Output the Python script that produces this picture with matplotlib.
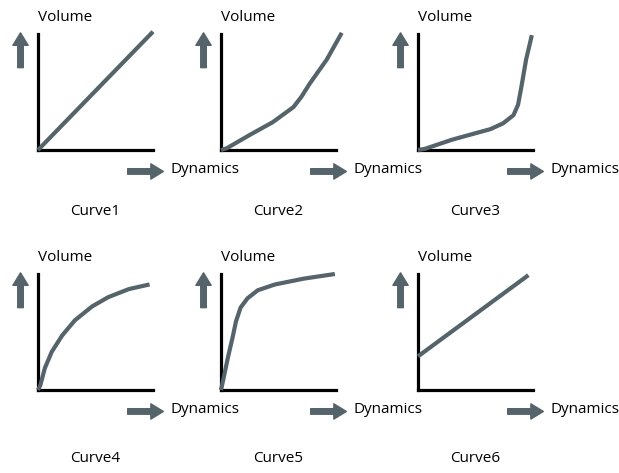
import matplotlib.pyplot as plt

# Kurvendaten (x = Dynamics, y = Volume, jeweils 0..1)
curve_names = ["Curve1", "Curve2", "Curve3", "Curve4", "Curve5", "Curve6"]
curve1_x = [0.0, 1.0]
curve1_y = [0.0, 1.02]
curve2_x = [0.0, 0.05, 0.25, 0.45, 0.63, 0.70, 0.77, 0.92, 1.05]
curve2_y = [0.0, 0.015, 0.13, 0.24, 0.37, 0.46, 0.57, 0.78, 1.01]
curve3_x = [0.0, 0.06, 0.30, 0.63, 0.74, 0.83, 0.87, 0.90, 0.94, 0.99]
curve3_y = [0.0, 0.01, 0.09, 0.18, 0.23, 0.30, 0.39, 0.55, 0.78, 0.99]
curve4_x = [0.0, 0.02, 0.06, 0.12, 0.21, 0.32, 0.47, 0.61, 0.79, 0.97]
curve4_y = [0.0, 0.04, 0.19, 0.33, 0.47, 0.60, 0.72, 0.80, 0.87, 0.91]
curve5_x = [0.0, 0.02, 0.06, 0.10, 0.13, 0.17, 0.23, 0.32, 0.47, 0.72, 0.99]
curve5_y = [0.0, 0.09, 0.28, 0.45, 0.59, 0.71, 0.79, 0.86, 0.91, 0.96, 1.0]
curve6_x = [0.0, 0.96]
curve6_y = [0.29, 0.99]
curves_x = [curve1_x, curve2_x, curve3_x, curve4_x, curve5_x, curve6_x]
curves_y = [curve1_y, curve2_y, curve3_y, curve4_y, curve5_y, curve6_y]

W, H = 619, 473
col_left = [38, 221, 418]
row_top = [34, 274]
panel_w, panel_h = 115, 116
label_off = [-0.53, -0.59]

grey = "#55636a"
font = "Open Sans"

fig = plt.figure(figsize=(W / 100, H / 100), dpi=100)

for i, name in enumerate(curve_names):
    r, c = divmod(i, 3)
    left = col_left[c] / W
    bottom = 1 - (row_top[r] + panel_h) / H
    ax = fig.add_axes([left, bottom, panel_w / W, panel_h / H])
    ax.set_xlim(0, 1)
    ax.set_ylim(0, 1)
    ax.set_xticks([])
    ax.set_yticks([])
    for s in ["top", "right"]:
        ax.spines[s].set_visible(False)
    for s in ["left", "bottom"]:
        ax.spines[s].set_linewidth(2.3)
        ax.spines[s].set_color("black")
        ax.spines[s].set_capstyle("projecting")
    ax.patch.set_alpha(0)

    ax.plot(curves_x[i], curves_y[i], color=grey, lw=3.0, clip_on=False,
            solid_joinstyle="round", solid_capstyle="butt", zorder=3)

    # Pfeile
    arrow = dict(arrowstyle="simple,head_width=0.55,head_length=0.45,tail_width=0.2",
                 color=grey, shrinkA=0, shrinkB=0, mutation_scale=20)
    ax.annotate("", xy=(-0.152, 1.01), xytext=(-0.152, 0.71),
                xycoords="axes fraction", arrowprops=arrow, annotation_clip=False)
    ax.annotate("", xy=(1.09, -0.185), xytext=(0.78, -0.185),
                xycoords="axes fraction", arrowprops=arrow, annotation_clip=False)

    ax.text(0.0, 1.14, "Volume", transform=ax.transAxes, fontsize=11,
            family=font, ha="left", va="center")
    ax.text(1.15, -0.17, "Dynamics", transform=ax.transAxes, fontsize=11,
            family=font, ha="left", va="center")
    ax.text(0.50, label_off[r], name, transform=ax.transAxes, fontsize=11,
            family=font, ha="center", va="center")

plt.savefig("out.png", dpi=100)
